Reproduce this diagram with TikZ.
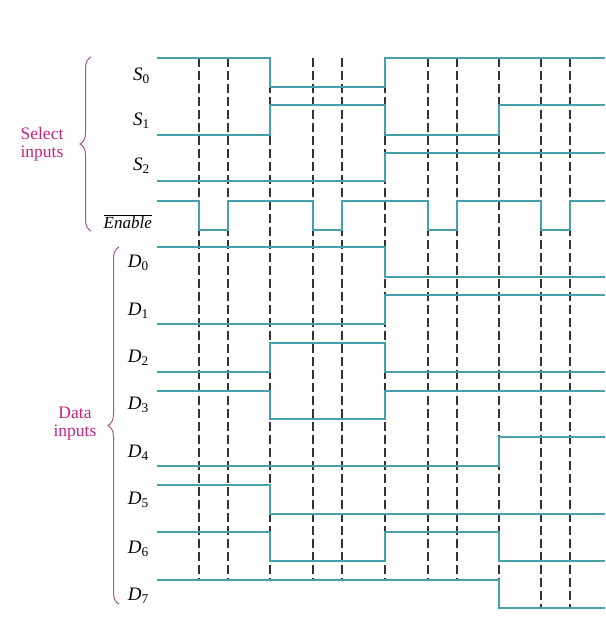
\documentclass[tikz,border=0pt]{standalone}
\usepackage{fontspec}
\setmainfont{Liberation Serif}
\usetikzlibrary{decorations.pathreplacing}

\definecolor{wavecol}{RGB}{72,160,175}
\definecolor{bracecol}{RGB}{170,85,140}
\definecolor{labelcol}{RGB}{200,35,130}

\tikzset{
  wave/.style={draw=wavecol,line width=1.8pt,line join=miter},
  timeline/.style={draw=black!80,dash pattern=on 9pt off 4pt,line width=1.4pt},
  sig/.style={anchor=east,inner sep=1pt,font=\fontsize{19}{20}\selectfont},
  grouplabel/.style={align=center,text=labelcol,inner sep=1pt,font=\fontsize{17.5}{18}\selectfont},
  curly/.style={draw=bracecol,line width=1pt,decorate,decoration={brace,amplitude=11pt}}
}

\begin{document}
\begin{tikzpicture}[x=1pt,y=-1pt]
\useasboundingbox (0,0) rectangle (605,628);

% signal names
\node[sig] (s0) at (151,76) {\textit{S}\textsubscript{0}};
\node[sig] (s1) at (151,121) {\textit{S}\textsubscript{1}};
\node[sig] (s2) at (151,166) {\textit{S}\textsubscript{2}};
\node[sig,font=\fontsize{17}{18}\selectfont] (en) at (153,222) {$\overline{\mbox{\textit{Enable}}}$};
\node[sig] (d0) at (150,263) {\textit{D}\textsubscript{0}};
\node[sig] (d1) at (150,311) {\textit{D}\textsubscript{1}};
\node[sig] (d2) at (150,358) {\textit{D}\textsubscript{2}};
\node[sig] (d3) at (150,405) {\textit{D}\textsubscript{3}};
\node[sig] (d4) at (150,453) {\textit{D}\textsubscript{4}};
\node[sig] (d5) at (150,500) {\textit{D}\textsubscript{5}};
\node[sig] (d6) at (150,549) {\textit{D}\textsubscript{6}};
\node[sig] (d7) at (150,596) {\textit{D}\textsubscript{7}};

% groups
\node[grouplabel] (sel) at (42,144) {Select\\inputs};
\node[grouplabel] (dat) at (75,424) {Data\\inputs};
\coordinate (selTop) at (91,57);
\coordinate (selBot) at (91,231);
\coordinate (datTop) at (119,247);
\coordinate (datBot) at (119,604);
\draw[curly] (selBot) -- (selTop);
\draw[curly] (datBot) -- (datTop);

% dashed time marks
\foreach \t in {199,228,270,313,342,385,428,457,499}
  \draw[timeline] (\t,58) -- (\t,580);
\foreach \t in {541,570}
  \draw[timeline] (\t,58) -- (\t,608);

% select inputs
\draw[wave] (157,58) -| (270,87) -| (385,58) -- (605,58);
\draw[wave] (157,135) -| (270,105) -| (385,135) -| (499,105) -- (605,105);
\draw[wave] (157,181) -| (385,153) -- (605,153);
% enable
\draw[wave] (157,201) -| (199,230) -| (228,201) -| (313,230) -| (342,201)
  -| (428,230) -| (457,201) -| (541,230) -| (570,201) -- (605,201);

% data inputs
\draw[wave] (157,247) -| (385,277) -- (605,277);
\draw[wave] (157,324) -| (385,295) -- (605,295);
\draw[wave] (157,372) -| (270,343) -| (385,372) -- (605,372);
\draw[wave] (157,391) -| (270,419) -| (385,391) -- (605,391);
\draw[wave] (157,466) -| (499,437) -- (605,437);
\draw[wave] (157,485) -| (270,514) -- (605,514);
\draw[wave] (157,532) -| (270,561) -| (385,532) -| (499,561) -- (605,561);
\draw[wave] (157,580) -| (499,608) -- (605,608);
\end{tikzpicture}
\end{document}
